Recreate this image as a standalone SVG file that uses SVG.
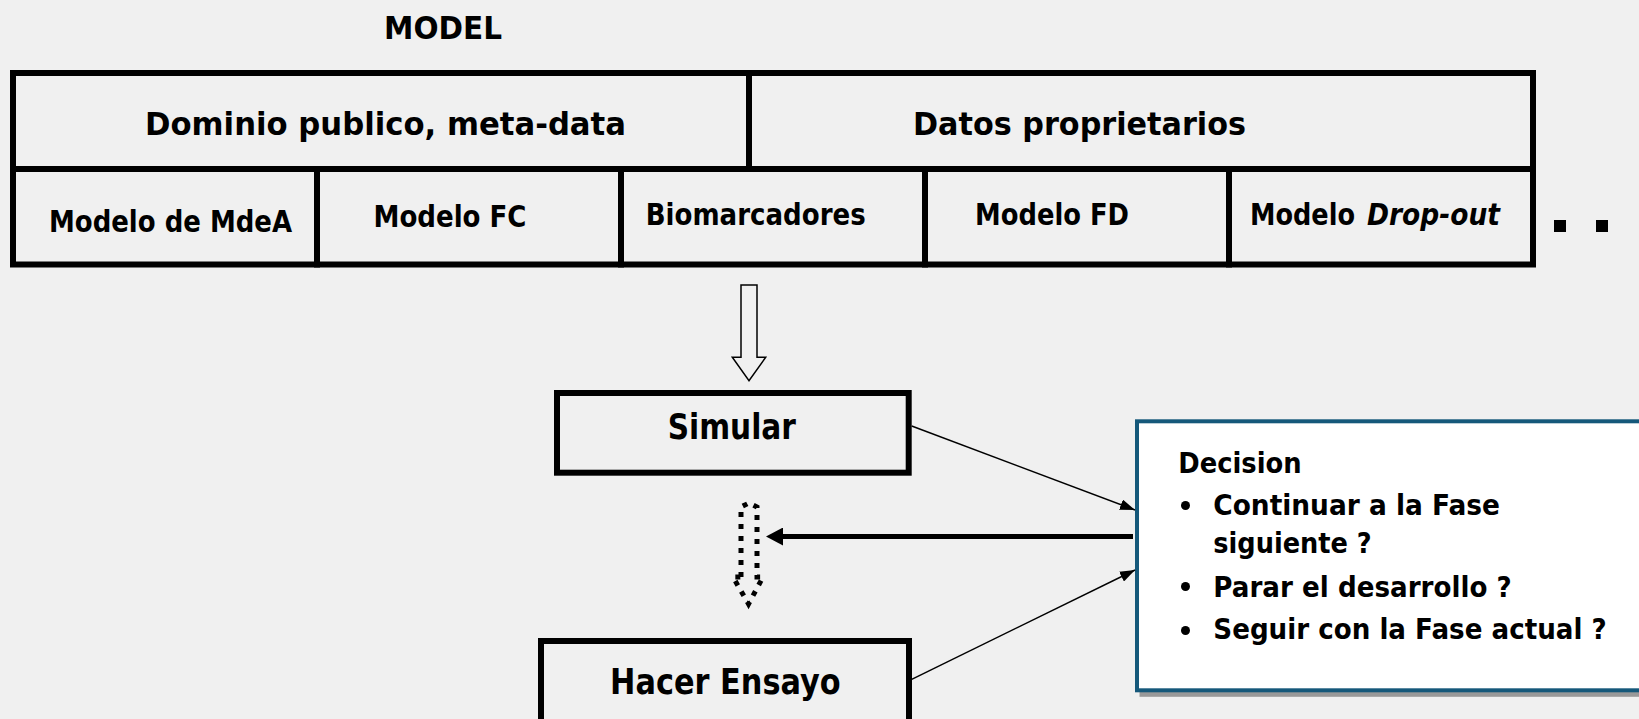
<svg xmlns="http://www.w3.org/2000/svg" width="1639" height="719" viewBox="0 0 1639 719">
<defs>
<style>
.bg{fill:#f0f0f0}
.cell{fill:none;stroke:#000;stroke-width:6}
.t{font-family:"DejaVu Sans","Liberation Sans",sans-serif;font-weight:bold;fill:#000}
.l{font-size:32px}
.s{font-size:31px}
.b{font-size:35px}
.d{font-size:28px}
.i{font-style:italic}
.thin{fill:none;stroke:#000;stroke-width:1.5}
</style>
<marker id="ah" markerUnits="userSpaceOnUse" viewBox="0 0 16 11" markerWidth="16" markerHeight="11" refX="15" refY="5.5" orient="auto"><path d="M0,0 L15,5.5 L0,11 Z" fill="#000"/></marker>
<marker id="ahb" markerUnits="userSpaceOnUse" viewBox="0 0 18 18" markerWidth="18" markerHeight="18" refX="3" refY="9" orient="auto"><path d="M0,0 L17,9 L0,18 Z" fill="#000"/></marker>
</defs>
<rect class="bg" x="0" y="0" width="1639" height="719"/>

<g id="title">
<text class="t l" x="384" y="39" textLength="118" lengthAdjust="spacingAndGlyphs">MODEL</text>
</g>

<g id="cell-dominio">
<rect class="cell" x="13" y="73" width="736" height="96"/>
<text class="t l" x="145" y="135" textLength="481" lengthAdjust="spacingAndGlyphs">Dominio publico, meta-data</text>
</g>
<g id="cell-datos">
<rect class="cell" x="749" y="73" width="784" height="96"/>
<text class="t l" x="913" y="135" textLength="333" lengthAdjust="spacingAndGlyphs">Datos proprietarios</text>
</g>
<g id="cell-mdea">
<rect class="cell" x="13" y="169" width="304" height="95.5"/>
<text class="t s" x="49" y="231.5" textLength="243" lengthAdjust="spacingAndGlyphs">Modelo de MdeA</text>
</g>
<g id="cell-fc">
<rect class="cell" x="317" y="169" width="304" height="95.5"/>
<text class="t s" x="373.5" y="226.5" textLength="153" lengthAdjust="spacingAndGlyphs">Modelo FC</text>
</g>
<g id="cell-bio">
<rect class="cell" x="621" y="169" width="304" height="95.5"/>
<text class="t s" x="645.7" y="225" textLength="220" lengthAdjust="spacingAndGlyphs">Biomarcadores</text>
</g>
<g id="cell-fd">
<rect class="cell" x="925" y="169" width="304" height="95.5"/>
<text class="t s" x="975" y="225" textLength="154" lengthAdjust="spacingAndGlyphs">Modelo FD</text>
</g>
<g id="cell-dropout">
<rect class="cell" x="1229" y="169" width="304" height="95.5"/>
<text class="t s" x="1250" y="225" textLength="105" lengthAdjust="spacingAndGlyphs">Modelo</text>
<text class="t s i" x="1367" y="225" textLength="133" lengthAdjust="spacingAndGlyphs">Drop-out</text>
</g>
<g id="ellipsis">
<rect x="1554" y="220" width="12" height="12" fill="#000"/>
<rect x="1596" y="220" width="12" height="12" fill="#000"/>
</g>

<g id="simular">
<rect class="cell" x="557" y="393" width="351.7" height="79.7"/>
<text class="t b" x="667.7" y="439.3" textLength="128.3" lengthAdjust="spacingAndGlyphs">Simular</text>
</g>

<g id="hacer-ensayo">
<rect class="cell" x="541" y="641" width="368" height="100"/>
<text class="t b" x="610" y="694.3" textLength="230.7" lengthAdjust="spacingAndGlyphs">Hacer Ensayo</text>
</g>

<g id="decision">
<rect x="1139.5" y="423.8" width="600" height="273" fill="#999"/>
<rect x="1137" y="421.3" width="600" height="269" fill="#fff" stroke="#15587a" stroke-width="4"/>
<text class="t d" x="1178.3" y="473.3" textLength="123.4" lengthAdjust="spacingAndGlyphs">Decision</text>
<circle cx="1185.5" cy="505.5" r="4.5" fill="#000"/>
<text class="t d" x="1213.3" y="515" textLength="286.7" lengthAdjust="spacingAndGlyphs">Continuar a la Fase</text>
<text class="t d" x="1213.3" y="552.7" textLength="158.4" lengthAdjust="spacingAndGlyphs">siguiente ?</text>
<circle cx="1185.5" cy="586.5" r="4.5" fill="#000"/>
<text class="t d" x="1213.3" y="596.7" textLength="298.4" lengthAdjust="spacingAndGlyphs">Parar el desarrollo ?</text>
<circle cx="1185.5" cy="630.5" r="4.5" fill="#000"/>
<text class="t d" x="1213.3" y="639" textLength="393.4" lengthAdjust="spacingAndGlyphs">Seguir con la Fase actual ?</text>
</g>

<g id="connectors">
<path d="M741,285 L757,285 L757,357.3 L765.7,357.3 L749,380.7 L732.3,357.3 L741,357.3 Z" fill="none" stroke="#000" stroke-width="1.5"/>
<path d="M741,577 L741,507 L749,503 L757,507 L757,577 L763,577 L748.5,604 L733,577 Z" fill="none" stroke="#000" stroke-width="5" stroke-dasharray="5 7"/>
<path class="thin" d="M911.7,426 L1135,510" marker-end="url(#ah)"/>
<path class="thin" d="M911.7,679.3 L1135,570" marker-end="url(#ah)"/>
<path d="M1133,536.5 L780,536.5" fill="none" stroke="#000" stroke-width="5" marker-end="url(#ahb)"/>
</g>
</svg>
